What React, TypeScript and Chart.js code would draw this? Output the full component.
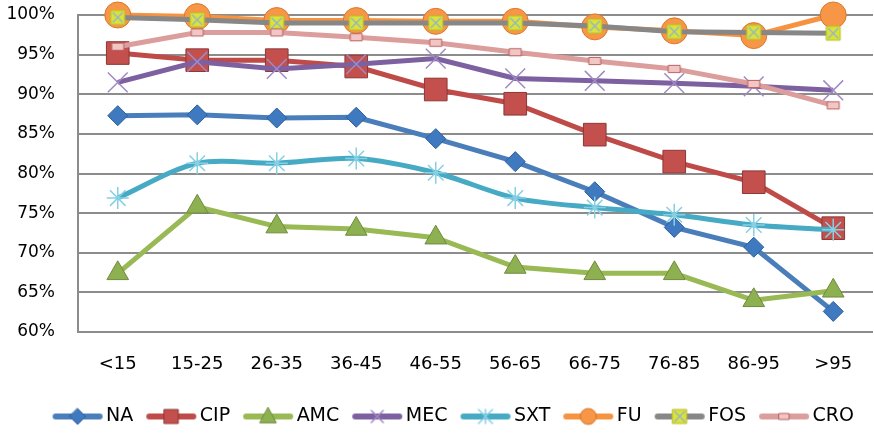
import { useEffect, useRef } from 'react';
import { Chart, registerables } from 'chart.js';
Chart.register(...registerables);

const categories = ['<15', '15-25', '26-35', '36-45', '46-55', '56-65', '66-75', '76-85', '86-95', '>95'];
const seriesNames = ['NA', 'CIP', 'AMC', 'MEC', 'SXT', 'FU', 'FOS', 'CRO'];
const NA = [87.3, 87.4, 87.0, 87.1, 84.4, 81.5, 77.7, 73.2, 70.7, 62.6];
const CIP = [95.2, 94.3, 94.3, 93.5, 90.6, 88.8, 84.9, 81.5, 78.9, 73.1];
const AMC = [67.4, 75.8, 73.3, 73.0, 71.9, 68.2, 67.4, 67.4, 64.0, 65.2];
const MEC = [91.5, 94.1, 93.2, 93.8, 94.5, 92.0, 91.7, 91.4, 91.0, 90.5];
const SXT = [76.9, 81.3, 81.3, 81.9, 80.1, 76.9, 75.7, 74.8, 73.5, 72.9];
const FU = [100, 99.8, 99.3, 99.3, 99.2, 99.2, 98.5, 98.0, 97.4, 100];
const FOS = [99.7, 99.4, 99.0, 99.0, 99.0, 99.0, 98.6, 97.9, 97.8, 97.7];
const CRO = [96.0, 97.8, 97.8, 97.2, 96.5, 95.3, 94.2, 93.2, 91.3, 88.6];
const yMin = 60;
const yMax = 100;
const yStep = 5;

const FONT = 'DejaVu Sans';

type Kind = 'diamond' | 'square' | 'triangle' | 'x' | 'star' | 'circle' | 'fos' | 'cro';

const lineColors = ['#4a7ebb', '#be4b48', '#98b954', '#7d60a0', '#46aac5', '#f69240', '#878787', '#dc9e9d'];
const kinds: Kind[] = ['diamond', 'square', 'triangle', 'x', 'star', 'circle', 'fos', 'cro'];

function drawMarker(ctx: CanvasRenderingContext2D, kind: Kind, x: number, y: number, s: number) {
  ctx.save();
  ctx.lineJoin = 'miter';
  ctx.beginPath();
  switch (kind) {
    case 'diamond':
      ctx.moveTo(x, y - s); ctx.lineTo(x + s, y); ctx.lineTo(x, y + s); ctx.lineTo(x - s, y); ctx.closePath();
      ctx.fillStyle = '#3f79c0'; ctx.strokeStyle = '#2d5f9a'; ctx.lineWidth = 1; ctx.fill(); ctx.stroke();
      break;
    case 'square':
      ctx.rect(x - s, y - s, 2 * s, 2 * s);
      ctx.fillStyle = '#c4504d'; ctx.strokeStyle = '#8c3836'; ctx.lineWidth = 1; ctx.fill(); ctx.stroke();
      break;
    case 'triangle':
      ctx.moveTo(x, y - s); ctx.lineTo(x + s * 0.9, y + s * 0.7); ctx.lineTo(x - s * 0.9, y + s * 0.7); ctx.closePath();
      ctx.fillStyle = '#8db150'; ctx.strokeStyle = '#71893f'; ctx.lineWidth = 1; ctx.fill(); ctx.stroke();
      break;
    case 'x':
      ctx.moveTo(x - s, y - s); ctx.lineTo(x + s, y + s); ctx.moveTo(x + s, y - s); ctx.lineTo(x - s, y + s);
      ctx.strokeStyle = '#a08ac4'; ctx.lineWidth = 1.5; ctx.stroke();
      break;
    case 'star':
      ctx.moveTo(x - s, y - s); ctx.lineTo(x + s, y + s); ctx.moveTo(x + s, y - s); ctx.lineTo(x - s, y + s);
      ctx.moveTo(x, y - s); ctx.lineTo(x, y + s);
      ctx.strokeStyle = '#86d0e3'; ctx.lineWidth = 1.5; ctx.stroke();
      break;
    case 'circle':
      ctx.arc(x, y, s, 0, Math.PI * 2);
      ctx.fillStyle = '#f79646'; ctx.strokeStyle = '#d8782c'; ctx.lineWidth = 1; ctx.fill(); ctx.stroke();
      break;
    case 'fos':
      ctx.rect(x - s, y - s, 2 * s, 2 * s);
      ctx.fillStyle = '#dbe23a'; ctx.strokeStyle = '#b9bf2a'; ctx.lineWidth = 1; ctx.fill(); ctx.stroke();
      ctx.beginPath();
      ctx.moveTo(x - s + 2, y - s + 2); ctx.lineTo(x + s - 2, y + s - 2);
      ctx.moveTo(x + s - 2, y - s + 2); ctx.lineTo(x - s + 2, y + s - 2);
      ctx.strokeStyle = '#8fb3d0'; ctx.lineWidth = 1.2; ctx.stroke();
      break;
    case 'cro':
      ctx.rect(x - s, y - s * 0.6, 2 * s, 1.2 * s);
      ctx.fillStyle = '#f2c6c5'; ctx.strokeStyle = '#b8615e'; ctx.lineWidth = 1; ctx.fill(); ctx.stroke();
      break;
  }
  ctx.restore();
}

function markerImage(kind: Kind, s: number, w: number, h: number) {
  const c = document.createElement('canvas');
  c.width = w; c.height = h;
  const ctx = c.getContext('2d')!;
  drawMarker(ctx, kind, w / 2, h / 2, s);
  return c;
}

function legendImage(i: number) {
  const w = 52, h = 20;
  const c = document.createElement('canvas');
  c.width = w; c.height = h;
  const ctx = c.getContext('2d')!;
  ctx.strokeStyle = lineColors[i];
  ctx.lineWidth = 6;
  ctx.lineCap = 'round';
  ctx.beginPath();
  ctx.moveTo(4, h / 2); ctx.lineTo(w - 4, h / 2); ctx.stroke();
  const sizes: Record<Kind, number> = { diamond: 8, square: 7, triangle: 9, x: 6, star: 7, circle: 8, fos: 7, cro: 5 };
  drawMarker(ctx, kinds[i], w / 2, h / 2, sizes[kinds[i]]);
  return c;
}

export default function App() {
  const ref = useRef<HTMLCanvasElement>(null);
  useEffect(() => {
    const canvas = ref.current!;
    Chart.defaults.font.family = FONT;
    const values = [NA, CIP, AMC, MEC, SXT, FU, FOS, CRO];
    const fosImg = markerImage('fos', 7, 18, 18);
    const croImg = markerImage('cro', 6, 16, 12);
    const pointStyles: any[] = ['rectRot', 'rect', 'triangle', 'crossRot', 'star', 'circle', fosImg, croImg];
    const radii = [10, 16, 12.5, 14, 11, 13, 9, 6];
    const fills = ['#3f79c0', '#c4504d', '#8db150', '#a08ac4', '#86d0e3', '#f79646', '#dbe23a', '#f2c6c5'];
    const borders = ['#2d5f9a', '#8c3836', '#71893f', '#a08ac4', '#86d0e3', '#d8782c', '#b9bf2a', '#b8615e'];
    const legendImgs = seriesNames.map((_, i) => legendImage(i));

    const chart = new Chart(canvas, {
      type: 'line',
      data: {
        labels: categories,
        datasets: seriesNames.map((name, i) => ({
          label: name,
          data: values[i],
          borderColor: lineColors[i],
          backgroundColor: fills[i],
          borderWidth: 5,
          pointStyle: pointStyles[i],
          pointRadius: radii[i],
          pointBackgroundColor: fills[i],
          pointBorderColor: borders[i],
          pointBorderWidth: i === 3 || i === 4 ? 1.5 : 1,
          tension: i === 4 ? 0.3 : 0,
          order: 8 - i,
          clip: false as any,
        })),
      },
      options: {
        animation: false,
        responsive: true,
        maintainAspectRatio: false,
        layout: { autoPadding: false, padding: { top: 15, left: 0, right: 1, bottom: -3 } },
        plugins: {
          tooltip: { enabled: false },
          legend: {
            position: 'bottom',
            align: 'end',
            labels: {
              usePointStyle: true,
              pointStyleWidth: 38,
              padding: 19,
              color: '#000',
              font: { family: FONT, size: 19 },
              generateLabels: (ch: any) =>
                ch.data.datasets.map((ds: any, i: number) => ({
                  text: ds.label,
                  pointStyle: legendImgs[i],
                  datasetIndex: i,
                  hidden: false,
                  fillStyle: lineColors[i],
                  strokeStyle: lineColors[i],
                  lineWidth: 0,
                  fontColor: '#000',
                })),
            },
          },
        },
        scales: {
          x: {
            offset: true,
            grid: { display: false, drawTicks: true, tickLength: 22 },
            border: { display: false },
            ticks: { color: '#000', font: { family: FONT, size: 18 }, padding: 0, maxRotation: 0, autoSkip: false },
            afterFit: (s: any) => { s.height = 56; s.paddingLeft = 0; s.paddingRight = 0; },
          },
          y: {
            min: yMin,
            max: yMax,
            grid: { color: '#8c8c8c', lineWidth: 2, drawTicks: false },
            border: { display: true, color: '#8c8c8c', width: 2 },
            ticks: {
              stepSize: yStep,
              color: '#000',
              padding: 23,
              font: { family: FONT, size: 17 },
              callback: (v: any) => v + '%',
            },
            afterFit: (s: any) => { s.width = 78; s.paddingTop = 0; s.paddingBottom = 0; },
          },
        },
      },
    });
    return () => chart.destroy();
  }, []);

  return (
    <div style={{ position: 'fixed', left: 0, top: 0, width: 874, height: 433, background: '#fff' }}>
      <canvas ref={ref} />
    </div>
  );
}
